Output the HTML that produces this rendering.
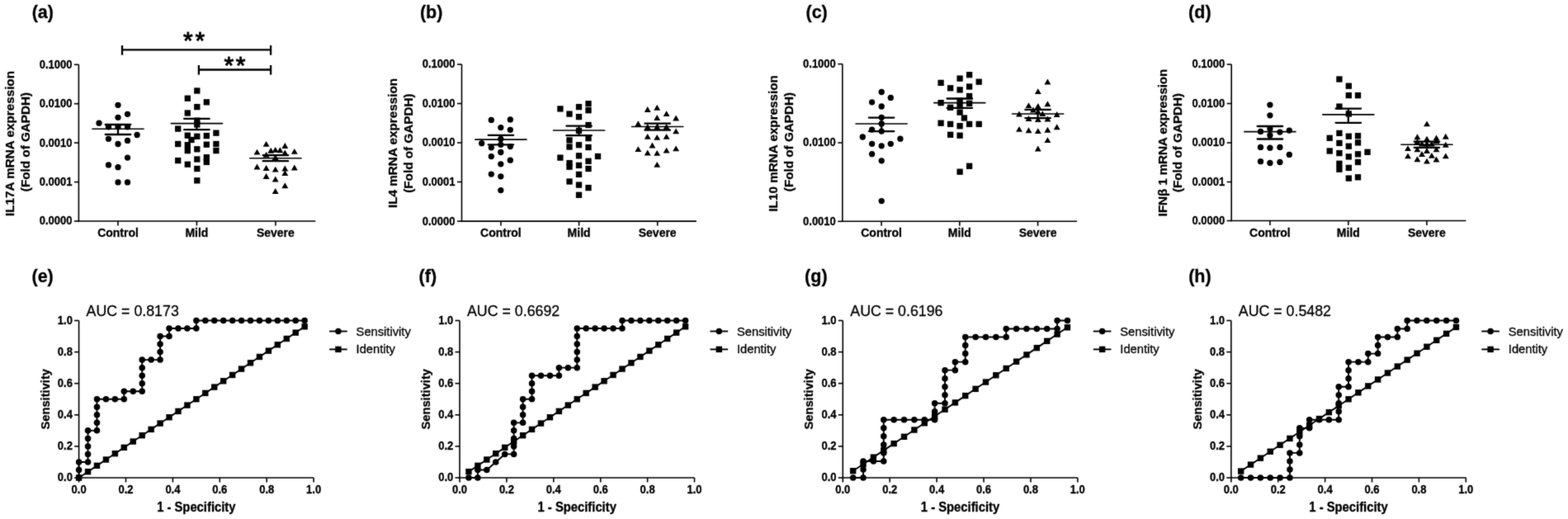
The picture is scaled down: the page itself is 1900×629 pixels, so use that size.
<!DOCTYPE html>
<html><head><meta charset="utf-8"><title>Figure</title>
<style>html,body{margin:0;padding:0;background:#fff;}svg{display:block;}text{stroke:#000;stroke-width:0.3px;stroke-linejoin:round;}</style>
</head><body>
<svg width="1900" height="629" viewBox="0 0 1900 629" font-family="'Liberation Sans', Arial, sans-serif" fill="#000">
<defs><filter id="soft" filterUnits="userSpaceOnUse" x="0" y="0" width="1900" height="629" color-interpolation-filters="sRGB"><feConvolveMatrix order="3" kernelMatrix="0.02 0.08 0.02 0.08 0.6 0.08 0.02 0.08 0.02" edgeMode="duplicate" preserveAlpha="false"/></filter></defs>
<rect width="1900" height="629" fill="#fff"/>
<g filter="url(#soft)">
<text transform="translate(38.7,22) scale(1,1.0)" font-size="21.5" font-weight="bold" text-anchor="start">(a)</text>
<line x1="95.4" y1="78.3" x2="95.4" y2="268.8" stroke="#000" stroke-width="1.6" stroke-linecap="butt"/>
<line x1="94.6" y1="268" x2="382.3" y2="268" stroke="#000" stroke-width="1.6" stroke-linecap="butt"/>
<line x1="89.9" y1="78.3" x2="95.4" y2="78.3" stroke="#000" stroke-width="1.6" stroke-linecap="butt"/>
<text transform="translate(87.4,82.7) scale(1,1.07)" font-size="13" font-weight="bold" text-anchor="end">0.1000</text>
<line x1="89.9" y1="125.7" x2="95.4" y2="125.7" stroke="#000" stroke-width="1.6" stroke-linecap="butt"/>
<text transform="translate(87.4,130.1) scale(1,1.07)" font-size="13" font-weight="bold" text-anchor="end">0.0100</text>
<line x1="89.9" y1="173.1" x2="95.4" y2="173.1" stroke="#000" stroke-width="1.6" stroke-linecap="butt"/>
<text transform="translate(87.4,177.5) scale(1,1.07)" font-size="13" font-weight="bold" text-anchor="end">0.0010</text>
<line x1="89.9" y1="220.6" x2="95.4" y2="220.6" stroke="#000" stroke-width="1.6" stroke-linecap="butt"/>
<text transform="translate(87.4,225) scale(1,1.07)" font-size="13" font-weight="bold" text-anchor="end">0.0001</text>
<line x1="89.9" y1="268" x2="95.4" y2="268" stroke="#000" stroke-width="1.6" stroke-linecap="butt"/>
<text transform="translate(87.4,272.4) scale(1,1.07)" font-size="13" font-weight="bold" text-anchor="end">0.0000</text>
<line x1="143" y1="268" x2="143" y2="273.5" stroke="#000" stroke-width="1.6" stroke-linecap="butt"/>
<text transform="translate(143,287) scale(1,1.04)" font-size="14" font-weight="bold" text-anchor="middle">Control</text>
<line x1="238.4" y1="268" x2="238.4" y2="273.5" stroke="#000" stroke-width="1.6" stroke-linecap="butt"/>
<text transform="translate(238.4,287) scale(1,1.04)" font-size="14" font-weight="bold" text-anchor="middle">Mild</text>
<line x1="333.9" y1="268" x2="333.9" y2="273.5" stroke="#000" stroke-width="1.6" stroke-linecap="butt"/>
<text transform="translate(333.9,287) scale(1,1.04)" font-size="14" font-weight="bold" text-anchor="middle">Severe</text>
<text transform="translate(17.1,174) rotate(-90) scale(1,1.0)" font-size="15.25" font-weight="bold" text-anchor="middle">IL17A mRNA expression</text>
<text transform="translate(36.1,172) rotate(-90) scale(1,1.0)" font-size="15.25" font-weight="bold" text-anchor="middle">(Fold of GAPDH)</text>
<circle cx="143" cy="127.3" r="3.65"/>
<circle cx="143" cy="142.3" r="3.65"/>
<circle cx="154.5" cy="138.3" r="3.65"/>
<circle cx="120" cy="149.2" r="3.65"/>
<circle cx="131.5" cy="153.8" r="3.65"/>
<circle cx="154.5" cy="153.8" r="3.65"/>
<circle cx="143" cy="153.8" r="3.65"/>
<circle cx="166.1" cy="163.5" r="3.65"/>
<circle cx="131.5" cy="168.3" r="3.65"/>
<circle cx="154.5" cy="170.4" r="3.65"/>
<circle cx="143" cy="174.5" r="3.65"/>
<circle cx="154.5" cy="191.1" r="3.65"/>
<circle cx="131.5" cy="199.9" r="3.65"/>
<circle cx="143" cy="202.7" r="3.65"/>
<circle cx="143" cy="220.9" r="3.65"/>
<circle cx="154.5" cy="220.9" r="3.65"/>
<line x1="111.9" y1="156.3" x2="174.1" y2="156.3" stroke="#000" stroke-width="1.6" stroke-linecap="round"/>
<line x1="127.75" y1="151" x2="158.25" y2="151" stroke="#000" stroke-width="2.3" stroke-linecap="round"/>
<line x1="127.75" y1="163" x2="158.25" y2="163" stroke="#000" stroke-width="2.3" stroke-linecap="round"/>
<line x1="143" y1="151" x2="143" y2="163" stroke="#000" stroke-width="2.3" stroke-linecap="butt"/>
<rect x="235.15" y="106.35" width="7.3" height="7.3"/>
<rect x="223.65" y="115.55" width="7.3" height="7.3"/>
<rect x="246.65" y="120.15" width="7.3" height="7.3"/>
<rect x="235.15" y="125.95" width="7.3" height="7.3"/>
<rect x="223.65" y="133.35" width="7.3" height="7.3"/>
<rect x="235.15" y="142.55" width="7.3" height="7.3"/>
<rect x="212.05" y="152.45" width="7.3" height="7.3"/>
<rect x="258.25" y="157.55" width="7.3" height="7.3"/>
<rect x="223.65" y="160.55" width="7.3" height="7.3"/>
<rect x="235.15" y="161.65" width="7.3" height="7.3"/>
<rect x="246.65" y="160.95" width="7.3" height="7.3"/>
<rect x="228.35" y="165.85" width="7.3" height="7.3"/>
<rect x="212.05" y="170.85" width="7.3" height="7.3"/>
<rect x="223.65" y="172.05" width="7.3" height="7.3"/>
<rect x="223.65" y="178.95" width="7.3" height="7.3"/>
<rect x="246.65" y="171.55" width="7.3" height="7.3"/>
<rect x="258.25" y="170.85" width="7.3" height="7.3"/>
<rect x="235.15" y="177.15" width="7.3" height="7.3"/>
<rect x="258.25" y="178.95" width="7.3" height="7.3"/>
<rect x="212.05" y="190.95" width="7.3" height="7.3"/>
<rect x="223.65" y="195.55" width="7.3" height="7.3"/>
<rect x="235.15" y="189.35" width="7.3" height="7.3"/>
<rect x="246.65" y="187.05" width="7.3" height="7.3"/>
<rect x="246.65" y="192.75" width="7.3" height="7.3"/>
<rect x="235.15" y="200.85" width="7.3" height="7.3"/>
<rect x="235.15" y="215.15" width="7.3" height="7.3"/>
<rect x="235.15" y="147.35" width="7.3" height="7.3"/>
<line x1="207.3" y1="149.6" x2="269.5" y2="149.6" stroke="#000" stroke-width="1.6" stroke-linecap="round"/>
<line x1="223.15" y1="143.9" x2="253.65" y2="143.9" stroke="#000" stroke-width="2.3" stroke-linecap="round"/>
<line x1="223.15" y1="157.2" x2="253.65" y2="157.2" stroke="#000" stroke-width="2.3" stroke-linecap="round"/>
<line x1="238.4" y1="143.9" x2="238.4" y2="157.2" stroke="#000" stroke-width="2.3" stroke-linecap="butt"/>
<polygon points="322.6,170.91 318.65,177.8 326.55,177.8"/>
<polygon points="345.3,173.11 341.35,180 349.25,180"/>
<polygon points="311.5,180.71 307.55,187.6 315.45,187.6"/>
<polygon points="328.2,178.81 324.25,185.7 332.15,185.7"/>
<polygon points="333.7,177.91 329.75,184.8 337.65,184.8"/>
<polygon points="339.3,178.31 335.35,185.2 343.25,185.2"/>
<polygon points="345.3,181.51 341.35,188.41 349.25,188.41"/>
<polygon points="356.8,179.91 352.85,186.8 360.75,186.8"/>
<polygon points="322.6,183.91 318.65,190.8 326.55,190.8"/>
<polygon points="311.5,198.51 307.55,205.41 315.45,205.41"/>
<polygon points="322.6,200.11 318.65,207 326.55,207"/>
<polygon points="333.7,201.71 329.75,208.6 337.65,208.6"/>
<polygon points="345.3,200.61 341.35,207.5 349.25,207.5"/>
<polygon points="356.8,199.51 352.85,206.41 360.75,206.41"/>
<polygon points="345.3,206.21 341.35,213.1 349.25,213.1"/>
<polygon points="322.6,210.11 318.65,217 326.55,217"/>
<polygon points="333.7,213.61 329.75,220.5 337.65,220.5"/>
<polygon points="345.3,221.31 341.35,228.2 349.25,228.2"/>
<polygon points="333.7,228.11 329.75,235 337.65,235"/>
<polygon points="333.7,187.21 329.75,194.1 337.65,194.1"/>
<line x1="302.8" y1="191.7" x2="365" y2="191.7" stroke="#000" stroke-width="1.6" stroke-linecap="round"/>
<line x1="318.65" y1="188.2" x2="349.15" y2="188.2" stroke="#000" stroke-width="2.3" stroke-linecap="round"/>
<line x1="318.65" y1="195.2" x2="349.15" y2="195.2" stroke="#000" stroke-width="2.3" stroke-linecap="round"/>
<line x1="333.9" y1="188.2" x2="333.9" y2="195.2" stroke="#000" stroke-width="2.3" stroke-linecap="butt"/>
<text transform="translate(508.9,22) scale(1,1.0)" font-size="21.5" font-weight="bold" text-anchor="start">(b)</text>
<line x1="559.5" y1="78" x2="559.5" y2="268.9" stroke="#000" stroke-width="1.6" stroke-linecap="butt"/>
<line x1="558.7" y1="268.1" x2="843.9" y2="268.1" stroke="#000" stroke-width="1.6" stroke-linecap="butt"/>
<line x1="554" y1="78" x2="559.5" y2="78" stroke="#000" stroke-width="1.6" stroke-linecap="butt"/>
<text transform="translate(551.5,82.4) scale(1,1.07)" font-size="13" font-weight="bold" text-anchor="end">0.1000</text>
<line x1="554" y1="125.5" x2="559.5" y2="125.5" stroke="#000" stroke-width="1.6" stroke-linecap="butt"/>
<text transform="translate(551.5,129.9) scale(1,1.07)" font-size="13" font-weight="bold" text-anchor="end">0.0100</text>
<line x1="554" y1="173" x2="559.5" y2="173" stroke="#000" stroke-width="1.6" stroke-linecap="butt"/>
<text transform="translate(551.5,177.4) scale(1,1.07)" font-size="13" font-weight="bold" text-anchor="end">0.0010</text>
<line x1="554" y1="220.5" x2="559.5" y2="220.5" stroke="#000" stroke-width="1.6" stroke-linecap="butt"/>
<text transform="translate(551.5,224.9) scale(1,1.07)" font-size="13" font-weight="bold" text-anchor="end">0.0001</text>
<line x1="554" y1="268.1" x2="559.5" y2="268.1" stroke="#000" stroke-width="1.6" stroke-linecap="butt"/>
<text transform="translate(551.5,272.5) scale(1,1.07)" font-size="13" font-weight="bold" text-anchor="end">0.0000</text>
<line x1="606.9" y1="268.1" x2="606.9" y2="273.6" stroke="#000" stroke-width="1.6" stroke-linecap="butt"/>
<text transform="translate(606.9,287) scale(1,1.04)" font-size="14" font-weight="bold" text-anchor="middle">Control</text>
<line x1="701.6" y1="268.1" x2="701.6" y2="273.6" stroke="#000" stroke-width="1.6" stroke-linecap="butt"/>
<text transform="translate(701.6,287) scale(1,1.04)" font-size="14" font-weight="bold" text-anchor="middle">Mild</text>
<line x1="796.7" y1="268.1" x2="796.7" y2="273.6" stroke="#000" stroke-width="1.6" stroke-linecap="butt"/>
<text transform="translate(796.7,287) scale(1,1.04)" font-size="14" font-weight="bold" text-anchor="middle">Severe</text>
<text transform="translate(480.8,173.45) rotate(-90) scale(1,1.0)" font-size="15.25" font-weight="bold" text-anchor="middle">IL4 mRNA expression</text>
<text transform="translate(499.6,173.65) rotate(-90) scale(1,1.0)" font-size="15.25" font-weight="bold" text-anchor="middle">(Fold of GAPDH)</text>
<circle cx="595.3" cy="145.4" r="3.65"/>
<circle cx="618.3" cy="144.9" r="3.65"/>
<circle cx="606.8" cy="154.6" r="3.65"/>
<circle cx="618.3" cy="157.3" r="3.65"/>
<circle cx="606.8" cy="168.4" r="3.65"/>
<circle cx="583.7" cy="173.7" r="3.65"/>
<circle cx="595.3" cy="178.8" r="3.65"/>
<circle cx="618.3" cy="177.6" r="3.65"/>
<circle cx="606.8" cy="175.3" r="3.65"/>
<circle cx="606.8" cy="184.5" r="3.65"/>
<circle cx="595.3" cy="189.6" r="3.65"/>
<circle cx="618.3" cy="194.2" r="3.65"/>
<circle cx="606.8" cy="198.8" r="3.65"/>
<circle cx="595.3" cy="211.1" r="3.65"/>
<circle cx="606.8" cy="213.8" r="3.65"/>
<circle cx="606.8" cy="230.6" r="3.65"/>
<line x1="575.8" y1="169.1" x2="638" y2="169.1" stroke="#000" stroke-width="1.6" stroke-linecap="round"/>
<line x1="591.65" y1="163.8" x2="622.15" y2="163.8" stroke="#000" stroke-width="2.3" stroke-linecap="round"/>
<line x1="591.65" y1="175.3" x2="622.15" y2="175.3" stroke="#000" stroke-width="2.3" stroke-linecap="round"/>
<line x1="606.9" y1="163.8" x2="606.9" y2="175.3" stroke="#000" stroke-width="2.3" stroke-linecap="butt"/>
<rect x="675.25" y="128.25" width="7.3" height="7.3"/>
<rect x="686.35" y="134.45" width="7.3" height="7.3"/>
<rect x="697.85" y="125.95" width="7.3" height="7.3"/>
<rect x="697.85" y="137.95" width="7.3" height="7.3"/>
<rect x="709.35" y="122.05" width="7.3" height="7.3"/>
<rect x="709.35" y="130.05" width="7.3" height="7.3"/>
<rect x="709.35" y="147.85" width="7.3" height="7.3"/>
<rect x="697.85" y="154.75" width="7.3" height="7.3"/>
<rect x="686.35" y="166.25" width="7.3" height="7.3"/>
<rect x="686.35" y="174.35" width="7.3" height="7.3"/>
<rect x="697.85" y="172.05" width="7.3" height="7.3"/>
<rect x="709.35" y="163.95" width="7.3" height="7.3"/>
<rect x="709.35" y="174.85" width="7.3" height="7.3"/>
<rect x="675.25" y="187.45" width="7.3" height="7.3"/>
<rect x="697.85" y="185.15" width="7.3" height="7.3"/>
<rect x="720.85" y="185.85" width="7.3" height="7.3"/>
<rect x="686.35" y="193.95" width="7.3" height="7.3"/>
<rect x="686.35" y="198.55" width="7.3" height="7.3"/>
<rect x="697.85" y="196.75" width="7.3" height="7.3"/>
<rect x="709.35" y="191.65" width="7.3" height="7.3"/>
<rect x="709.35" y="200.85" width="7.3" height="7.3"/>
<rect x="697.85" y="207.75" width="7.3" height="7.3"/>
<rect x="686.35" y="216.35" width="7.3" height="7.3"/>
<rect x="697.85" y="220.45" width="7.3" height="7.3"/>
<rect x="709.35" y="223.95" width="7.3" height="7.3"/>
<rect x="697.85" y="232.65" width="7.3" height="7.3"/>
<line x1="670.5" y1="158" x2="732.7" y2="158" stroke="#000" stroke-width="1.6" stroke-linecap="round"/>
<line x1="686.35" y1="152.6" x2="716.85" y2="152.6" stroke="#000" stroke-width="2.3" stroke-linecap="round"/>
<line x1="686.35" y1="164.2" x2="716.85" y2="164.2" stroke="#000" stroke-width="2.3" stroke-linecap="round"/>
<line x1="701.6" y1="152.6" x2="701.6" y2="164.2" stroke="#000" stroke-width="2.3" stroke-linecap="butt"/>
<polygon points="784.7,129.11 780.75,136 788.65,136"/>
<polygon points="796.2,126.8 792.25,133.7 800.15,133.7"/>
<polygon points="807.6,134.21 803.65,141.1 811.55,141.1"/>
<polygon points="796.2,139.01 792.25,145.91 800.15,145.91"/>
<polygon points="819.1,139.61 815.15,146.5 823.05,146.5"/>
<polygon points="773.3,146.31 769.35,153.2 777.25,153.2"/>
<polygon points="784.7,150.11 780.75,157 788.65,157"/>
<polygon points="796.2,150.11 792.25,157 800.15,157"/>
<polygon points="807.6,150.11 803.65,157 811.55,157"/>
<polygon points="819.1,155.41 815.15,162.3 823.05,162.3"/>
<polygon points="784.7,161.91 780.75,168.8 788.65,168.8"/>
<polygon points="796.2,162.91 792.25,169.8 800.15,169.8"/>
<polygon points="807.6,161.91 803.65,168.8 811.55,168.8"/>
<polygon points="790.4,172.61 786.45,179.5 794.35,179.5"/>
<polygon points="773.3,177.21 769.35,184.1 777.25,184.1"/>
<polygon points="784.7,181.61 780.75,188.5 788.65,188.5"/>
<polygon points="796.2,181.91 792.25,188.8 800.15,188.8"/>
<polygon points="807.6,178.71 803.65,185.6 811.55,185.6"/>
<polygon points="819.1,176.41 815.15,183.3 823.05,183.3"/>
<polygon points="796.2,195.91 792.25,202.8 800.15,202.8"/>
<line x1="765.6" y1="153.5" x2="827.8" y2="153.5" stroke="#000" stroke-width="1.6" stroke-linecap="round"/>
<line x1="781.45" y1="149.7" x2="811.95" y2="149.7" stroke="#000" stroke-width="2.3" stroke-linecap="round"/>
<line x1="781.45" y1="157.7" x2="811.95" y2="157.7" stroke="#000" stroke-width="2.3" stroke-linecap="round"/>
<line x1="796.7" y1="149.7" x2="796.7" y2="157.7" stroke="#000" stroke-width="2.3" stroke-linecap="butt"/>
<text transform="translate(976.5,22) scale(1,1.0)" font-size="21.5" font-weight="bold" text-anchor="start">(c)</text>
<line x1="1020.8" y1="77.6" x2="1020.8" y2="269.1" stroke="#000" stroke-width="1.6" stroke-linecap="butt"/>
<line x1="1020" y1="268.3" x2="1305.1" y2="268.3" stroke="#000" stroke-width="1.6" stroke-linecap="butt"/>
<line x1="1015.3" y1="77.6" x2="1020.8" y2="77.6" stroke="#000" stroke-width="1.6" stroke-linecap="butt"/>
<text transform="translate(1012.8,82) scale(1,1.07)" font-size="13" font-weight="bold" text-anchor="end">0.1000</text>
<line x1="1015.3" y1="173" x2="1020.8" y2="173" stroke="#000" stroke-width="1.6" stroke-linecap="butt"/>
<text transform="translate(1012.8,177.4) scale(1,1.07)" font-size="13" font-weight="bold" text-anchor="end">0.0100</text>
<line x1="1015.3" y1="268.3" x2="1020.8" y2="268.3" stroke="#000" stroke-width="1.6" stroke-linecap="butt"/>
<text transform="translate(1012.8,272.7) scale(1,1.07)" font-size="13" font-weight="bold" text-anchor="end">0.0010</text>
<line x1="1068.1" y1="268.3" x2="1068.1" y2="273.8" stroke="#000" stroke-width="1.6" stroke-linecap="butt"/>
<text transform="translate(1068.1,287) scale(1,1.04)" font-size="14" font-weight="bold" text-anchor="middle">Control</text>
<line x1="1162.8" y1="268.3" x2="1162.8" y2="273.8" stroke="#000" stroke-width="1.6" stroke-linecap="butt"/>
<text transform="translate(1162.8,287) scale(1,1.04)" font-size="14" font-weight="bold" text-anchor="middle">Mild</text>
<line x1="1257.6" y1="268.3" x2="1257.6" y2="273.8" stroke="#000" stroke-width="1.6" stroke-linecap="butt"/>
<text transform="translate(1257.6,287) scale(1,1.04)" font-size="14" font-weight="bold" text-anchor="middle">Severe</text>
<text transform="translate(942.1,173.85) rotate(-90) scale(1,1.0)" font-size="15.25" font-weight="bold" text-anchor="middle">IL10 mRNA expression</text>
<text transform="translate(961.1,172.05) rotate(-90) scale(1,1.0)" font-size="15.25" font-weight="bold" text-anchor="middle">(Fold of GAPDH)</text>
<circle cx="1068.2" cy="111.5" r="3.65"/>
<circle cx="1079.3" cy="118.4" r="3.65"/>
<circle cx="1056.6" cy="123.8" r="3.65"/>
<circle cx="1068.2" cy="129" r="3.65"/>
<circle cx="1068.2" cy="142.3" r="3.65"/>
<circle cx="1056.6" cy="157.1" r="3.65"/>
<circle cx="1068.2" cy="159.1" r="3.65"/>
<circle cx="1045.3" cy="166" r="3.65"/>
<circle cx="1090.9" cy="168.2" r="3.65"/>
<circle cx="1056.6" cy="174.3" r="3.65"/>
<circle cx="1068.2" cy="176.8" r="3.65"/>
<circle cx="1079.3" cy="174.3" r="3.65"/>
<circle cx="1056.6" cy="186.7" r="3.65"/>
<circle cx="1068.2" cy="194.8" r="3.65"/>
<circle cx="1068.2" cy="243.6" r="3.65"/>
<circle cx="1068.2" cy="150" r="3.65"/>
<line x1="1037" y1="150" x2="1099.2" y2="150" stroke="#000" stroke-width="1.6" stroke-linecap="round"/>
<line x1="1052.85" y1="142.6" x2="1083.35" y2="142.6" stroke="#000" stroke-width="2.3" stroke-linecap="round"/>
<line x1="1052.85" y1="159.1" x2="1083.35" y2="159.1" stroke="#000" stroke-width="2.3" stroke-linecap="round"/>
<line x1="1068.1" y1="142.6" x2="1068.1" y2="159.1" stroke="#000" stroke-width="2.3" stroke-linecap="butt"/>
<rect x="1170.95" y="87.05" width="7.3" height="7.3"/>
<rect x="1159.45" y="91.45" width="7.3" height="7.3"/>
<rect x="1136.45" y="96.75" width="7.3" height="7.3"/>
<rect x="1182.55" y="95.55" width="7.3" height="7.3"/>
<rect x="1147.95" y="103.15" width="7.3" height="7.3"/>
<rect x="1159.45" y="105.25" width="7.3" height="7.3"/>
<rect x="1170.95" y="101.35" width="7.3" height="7.3"/>
<rect x="1170.95" y="112.85" width="7.3" height="7.3"/>
<rect x="1159.45" y="118.65" width="7.3" height="7.3"/>
<rect x="1136.45" y="120.95" width="7.3" height="7.3"/>
<rect x="1170.95" y="121.65" width="7.3" height="7.3"/>
<rect x="1147.95" y="126.65" width="7.3" height="7.3"/>
<rect x="1159.45" y="124.35" width="7.3" height="7.3"/>
<rect x="1159.45" y="132.45" width="7.3" height="7.3"/>
<rect x="1164.75" y="139.35" width="7.3" height="7.3"/>
<rect x="1136.45" y="145.55" width="7.3" height="7.3"/>
<rect x="1147.95" y="146.75" width="7.3" height="7.3"/>
<rect x="1159.45" y="149.05" width="7.3" height="7.3"/>
<rect x="1170.95" y="146.75" width="7.3" height="7.3"/>
<rect x="1182.55" y="146.75" width="7.3" height="7.3"/>
<rect x="1147.95" y="159.65" width="7.3" height="7.3"/>
<rect x="1159.45" y="160.55" width="7.3" height="7.3"/>
<rect x="1170.95" y="197.65" width="7.3" height="7.3"/>
<rect x="1159.45" y="204.55" width="7.3" height="7.3"/>
<line x1="1131.7" y1="124.6" x2="1193.9" y2="124.6" stroke="#000" stroke-width="1.6" stroke-linecap="round"/>
<line x1="1147.55" y1="119.5" x2="1178.05" y2="119.5" stroke="#000" stroke-width="2.3" stroke-linecap="round"/>
<line x1="1147.55" y1="130.8" x2="1178.05" y2="130.8" stroke="#000" stroke-width="2.3" stroke-linecap="round"/>
<line x1="1162.8" y1="119.5" x2="1162.8" y2="130.8" stroke="#000" stroke-width="2.3" stroke-linecap="butt"/>
<polygon points="1269.4,95.5 1265.45,102.41 1273.35,102.41"/>
<polygon points="1257.8,107.2 1253.85,114.11 1261.75,114.11"/>
<polygon points="1246.5,124.2 1242.55,131.1 1250.45,131.1"/>
<polygon points="1257.8,125.11 1253.85,132 1261.75,132"/>
<polygon points="1269.4,122.3 1265.45,129.2 1273.35,129.2"/>
<polygon points="1252,129.61 1248.05,136.5 1255.95,136.5"/>
<polygon points="1257.8,131.51 1253.85,138.41 1261.75,138.41"/>
<polygon points="1263.3,134.21 1259.35,141.1 1267.25,141.1"/>
<polygon points="1235,134.61 1231.05,141.5 1238.95,141.5"/>
<polygon points="1280.7,135.11 1276.75,142 1284.65,142"/>
<polygon points="1246.5,140.11 1242.55,147 1250.45,147"/>
<polygon points="1257.8,141.21 1253.85,148.1 1261.75,148.1"/>
<polygon points="1269.4,140.61 1265.45,147.5 1273.35,147.5"/>
<polygon points="1235,152.91 1231.05,159.8 1238.95,159.8"/>
<polygon points="1246.5,154.31 1242.55,161.2 1250.45,161.2"/>
<polygon points="1257.8,155.21 1253.85,162.1 1261.75,162.1"/>
<polygon points="1269.4,153.81 1265.45,160.7 1273.35,160.7"/>
<polygon points="1280.7,150.31 1276.75,157.2 1284.65,157.2"/>
<polygon points="1269.4,166.21 1265.45,173.1 1273.35,173.1"/>
<polygon points="1257.8,176.61 1253.85,183.5 1261.75,183.5"/>
<line x1="1226.5" y1="138" x2="1288.7" y2="138" stroke="#000" stroke-width="1.6" stroke-linecap="round"/>
<line x1="1242.35" y1="132.9" x2="1272.85" y2="132.9" stroke="#000" stroke-width="2.3" stroke-linecap="round"/>
<line x1="1242.35" y1="143.1" x2="1272.85" y2="143.1" stroke="#000" stroke-width="2.3" stroke-linecap="round"/>
<line x1="1257.6" y1="132.9" x2="1257.6" y2="143.1" stroke="#000" stroke-width="2.3" stroke-linecap="butt"/>
<text transform="translate(1440.1,22) scale(1,1.0)" font-size="21.5" font-weight="bold" text-anchor="start">(d)</text>
<line x1="1492.2" y1="78" x2="1492.2" y2="268.3" stroke="#000" stroke-width="1.6" stroke-linecap="butt"/>
<line x1="1491.4" y1="267.5" x2="1776.4" y2="267.5" stroke="#000" stroke-width="1.6" stroke-linecap="butt"/>
<line x1="1486.7" y1="78" x2="1492.2" y2="78" stroke="#000" stroke-width="1.6" stroke-linecap="butt"/>
<text transform="translate(1484.2,82.4) scale(1,1.07)" font-size="13" font-weight="bold" text-anchor="end">0.1000</text>
<line x1="1486.7" y1="125.5" x2="1492.2" y2="125.5" stroke="#000" stroke-width="1.6" stroke-linecap="butt"/>
<text transform="translate(1484.2,129.9) scale(1,1.07)" font-size="13" font-weight="bold" text-anchor="end">0.0100</text>
<line x1="1486.7" y1="173" x2="1492.2" y2="173" stroke="#000" stroke-width="1.6" stroke-linecap="butt"/>
<text transform="translate(1484.2,177.4) scale(1,1.07)" font-size="13" font-weight="bold" text-anchor="end">0.0010</text>
<line x1="1486.7" y1="220.5" x2="1492.2" y2="220.5" stroke="#000" stroke-width="1.6" stroke-linecap="butt"/>
<text transform="translate(1484.2,224.9) scale(1,1.07)" font-size="13" font-weight="bold" text-anchor="end">0.0001</text>
<line x1="1486.7" y1="267.5" x2="1492.2" y2="267.5" stroke="#000" stroke-width="1.6" stroke-linecap="butt"/>
<text transform="translate(1484.2,271.9) scale(1,1.07)" font-size="13" font-weight="bold" text-anchor="end">0.0000</text>
<line x1="1538.9" y1="267.5" x2="1538.9" y2="273" stroke="#000" stroke-width="1.6" stroke-linecap="butt"/>
<text transform="translate(1538.9,287) scale(1,1.04)" font-size="14" font-weight="bold" text-anchor="middle">Control</text>
<line x1="1633.8" y1="267.5" x2="1633.8" y2="273" stroke="#000" stroke-width="1.6" stroke-linecap="butt"/>
<text transform="translate(1633.8,287) scale(1,1.04)" font-size="14" font-weight="bold" text-anchor="middle">Mild</text>
<line x1="1728.9" y1="267.5" x2="1728.9" y2="273" stroke="#000" stroke-width="1.6" stroke-linecap="butt"/>
<text transform="translate(1728.9,287) scale(1,1.04)" font-size="14" font-weight="bold" text-anchor="middle">Severe</text>
<text transform="translate(1413.6,172.9) rotate(-90) scale(1,1.0)" font-size="15.25" font-weight="bold" text-anchor="middle" textLength="178.5">IFNβ 1 mRNA expression</text>
<text transform="translate(1431.9,172.95) rotate(-90) scale(1,1.0)" font-size="15.25" font-weight="bold" text-anchor="middle">(Fold of GAPDH)</text>
<circle cx="1538.9" cy="127.1" r="3.65"/>
<circle cx="1538.9" cy="139.8" r="3.65"/>
<circle cx="1527.5" cy="159.4" r="3.65"/>
<circle cx="1550.9" cy="160.1" r="3.65"/>
<circle cx="1562.3" cy="158.1" r="3.65"/>
<circle cx="1538.9" cy="163.9" r="3.65"/>
<circle cx="1538.9" cy="156" r="3.65"/>
<circle cx="1527.5" cy="178.4" r="3.65"/>
<circle cx="1538.9" cy="179.2" r="3.65"/>
<circle cx="1550.9" cy="178.4" r="3.65"/>
<circle cx="1562.3" cy="187.4" r="3.65"/>
<circle cx="1527.5" cy="195.7" r="3.65"/>
<circle cx="1538.9" cy="197.5" r="3.65"/>
<circle cx="1550.9" cy="196.5" r="3.65"/>
<line x1="1507.8" y1="159.6" x2="1570" y2="159.6" stroke="#000" stroke-width="1.6" stroke-linecap="round"/>
<line x1="1523.65" y1="153" x2="1554.15" y2="153" stroke="#000" stroke-width="2.3" stroke-linecap="round"/>
<line x1="1523.65" y1="168.5" x2="1554.15" y2="168.5" stroke="#000" stroke-width="2.3" stroke-linecap="round"/>
<line x1="1538.9" y1="153" x2="1538.9" y2="168.5" stroke="#000" stroke-width="2.3" stroke-linecap="butt"/>
<rect x="1619.25" y="92.35" width="7.3" height="7.3"/>
<rect x="1630.65" y="100.55" width="7.3" height="7.3"/>
<rect x="1630.65" y="111.95" width="7.3" height="7.3"/>
<rect x="1641.85" y="111.95" width="7.3" height="7.3"/>
<rect x="1619.25" y="125.45" width="7.3" height="7.3"/>
<rect x="1630.65" y="134.35" width="7.3" height="7.3"/>
<rect x="1619.25" y="157.75" width="7.3" height="7.3"/>
<rect x="1607.55" y="163.65" width="7.3" height="7.3"/>
<rect x="1630.65" y="161.55" width="7.3" height="7.3"/>
<rect x="1641.85" y="161.05" width="7.3" height="7.3"/>
<rect x="1619.25" y="169.75" width="7.3" height="7.3"/>
<rect x="1630.65" y="173.55" width="7.3" height="7.3"/>
<rect x="1641.85" y="169.25" width="7.3" height="7.3"/>
<rect x="1607.55" y="179.35" width="7.3" height="7.3"/>
<rect x="1619.25" y="181.95" width="7.3" height="7.3"/>
<rect x="1630.65" y="186.25" width="7.3" height="7.3"/>
<rect x="1641.85" y="183.15" width="7.3" height="7.3"/>
<rect x="1653.35" y="180.65" width="7.3" height="7.3"/>
<rect x="1619.25" y="194.65" width="7.3" height="7.3"/>
<rect x="1619.25" y="201.55" width="7.3" height="7.3"/>
<rect x="1630.65" y="199.75" width="7.3" height="7.3"/>
<rect x="1641.85" y="192.85" width="7.3" height="7.3"/>
<rect x="1630.65" y="212.45" width="7.3" height="7.3"/>
<rect x="1641.85" y="211.15" width="7.3" height="7.3"/>
<line x1="1602.7" y1="138.9" x2="1664.9" y2="138.9" stroke="#000" stroke-width="1.6" stroke-linecap="round"/>
<line x1="1618.55" y1="131.6" x2="1649.05" y2="131.6" stroke="#000" stroke-width="2.3" stroke-linecap="round"/>
<line x1="1618.55" y1="148.8" x2="1649.05" y2="148.8" stroke="#000" stroke-width="2.3" stroke-linecap="round"/>
<line x1="1633.8" y1="131.6" x2="1633.8" y2="148.8" stroke="#000" stroke-width="2.3" stroke-linecap="butt"/>
<polygon points="1729,146.41 1725.05,153.3 1732.95,153.3"/>
<polygon points="1717.4,162.31 1713.45,169.2 1721.35,169.2"/>
<polygon points="1729,164.71 1725.05,171.6 1732.95,171.6"/>
<polygon points="1740.5,163.41 1736.55,170.3 1744.45,170.3"/>
<polygon points="1751.8,161.81 1747.85,168.7 1755.75,168.7"/>
<polygon points="1717.4,168.21 1713.45,175.1 1721.35,175.1"/>
<polygon points="1723,170.71 1719.05,177.6 1726.95,177.6"/>
<polygon points="1729,170.71 1725.05,177.6 1732.95,177.6"/>
<polygon points="1734.9,170.71 1730.95,177.6 1738.85,177.6"/>
<polygon points="1740.5,167.21 1736.55,174.1 1744.45,174.1"/>
<polygon points="1706,176.21 1702.05,183.1 1709.95,183.1"/>
<polygon points="1717.4,177.41 1713.45,184.3 1721.35,184.3"/>
<polygon points="1729,179.01 1725.05,185.91 1732.95,185.91"/>
<polygon points="1740.5,177.41 1736.55,184.3 1744.45,184.3"/>
<polygon points="1751.8,171.81 1747.85,178.7 1755.75,178.7"/>
<polygon points="1706,185.41 1702.05,192.3 1709.95,192.3"/>
<polygon points="1723,183.01 1719.05,189.91 1726.95,189.91"/>
<polygon points="1734.9,184.91 1730.95,191.8 1738.85,191.8"/>
<polygon points="1751.8,185.41 1747.85,192.3 1755.75,192.3"/>
<polygon points="1717.4,189.31 1713.45,196.2 1721.35,196.2"/>
<polygon points="1729,191.71 1725.05,198.6 1732.95,198.6"/>
<polygon points="1740.5,189.61 1736.55,196.5 1744.45,196.5"/>
<line x1="1697.8" y1="175.3" x2="1760" y2="175.3" stroke="#000" stroke-width="1.6" stroke-linecap="round"/>
<line x1="1713.65" y1="171.7" x2="1744.15" y2="171.7" stroke="#000" stroke-width="2.3" stroke-linecap="round"/>
<line x1="1713.65" y1="178.8" x2="1744.15" y2="178.8" stroke="#000" stroke-width="2.3" stroke-linecap="round"/>
<line x1="1728.9" y1="171.7" x2="1728.9" y2="178.8" stroke="#000" stroke-width="2.3" stroke-linecap="butt"/>
<line x1="148" y1="60.3" x2="328.1" y2="60.3" stroke="#000" stroke-width="2.3" stroke-linecap="butt"/>
<line x1="148" y1="55" x2="148" y2="66.7" stroke="#000" stroke-width="2.3" stroke-linecap="butt"/>
<line x1="328.1" y1="55" x2="328.1" y2="66.7" stroke="#000" stroke-width="2.3" stroke-linecap="butt"/>
<line x1="240.9" y1="84.5" x2="328.1" y2="84.5" stroke="#000" stroke-width="2.3" stroke-linecap="butt"/>
<line x1="240.9" y1="79" x2="240.9" y2="90.6" stroke="#000" stroke-width="2.3" stroke-linecap="butt"/>
<line x1="328.1" y1="79" x2="328.1" y2="90.6" stroke="#000" stroke-width="2.3" stroke-linecap="butt"/>
<text transform="translate(236.4,58.9) scale(1,1.0)" font-size="30" font-weight="normal" text-anchor="middle" letter-spacing="2.6" style="stroke-width:0.9px">**</text>
<text transform="translate(285.8,88.6) scale(1,1.0)" font-size="30" font-weight="normal" text-anchor="middle" letter-spacing="2.6" style="stroke-width:0.9px">**</text>
<text transform="translate(38.5,341.6) scale(1,1.0)" font-size="21.5" font-weight="bold" text-anchor="start">(e)</text>
<line x1="95.6" y1="388.5" x2="95.6" y2="579.8" stroke="#000" stroke-width="1.6" stroke-linecap="butt"/>
<line x1="94.8" y1="579" x2="380.1" y2="579" stroke="#000" stroke-width="1.6" stroke-linecap="butt"/>
<line x1="90.1" y1="579" x2="95.6" y2="579" stroke="#000" stroke-width="1.6" stroke-linecap="butt"/>
<text transform="translate(87.9,583.4) scale(1,1.07)" font-size="13" font-weight="bold" text-anchor="end">0.0</text>
<line x1="95.6" y1="579" x2="95.6" y2="584.5" stroke="#000" stroke-width="1.6" stroke-linecap="butt"/>
<text transform="translate(95.6,598.3) scale(1,1.07)" font-size="13" font-weight="bold" text-anchor="middle">0.0</text>
<line x1="90.1" y1="540.9" x2="95.6" y2="540.9" stroke="#000" stroke-width="1.6" stroke-linecap="butt"/>
<text transform="translate(87.9,545.3) scale(1,1.07)" font-size="13" font-weight="bold" text-anchor="end">0.2</text>
<line x1="152.5" y1="579" x2="152.5" y2="584.5" stroke="#000" stroke-width="1.6" stroke-linecap="butt"/>
<text transform="translate(152.5,598.3) scale(1,1.07)" font-size="13" font-weight="bold" text-anchor="middle">0.2</text>
<line x1="90.1" y1="502.8" x2="95.6" y2="502.8" stroke="#000" stroke-width="1.6" stroke-linecap="butt"/>
<text transform="translate(87.9,507.2) scale(1,1.07)" font-size="13" font-weight="bold" text-anchor="end">0.4</text>
<line x1="209.4" y1="579" x2="209.4" y2="584.5" stroke="#000" stroke-width="1.6" stroke-linecap="butt"/>
<text transform="translate(209.4,598.3) scale(1,1.07)" font-size="13" font-weight="bold" text-anchor="middle">0.4</text>
<line x1="90.1" y1="464.7" x2="95.6" y2="464.7" stroke="#000" stroke-width="1.6" stroke-linecap="butt"/>
<text transform="translate(87.9,469.1) scale(1,1.07)" font-size="13" font-weight="bold" text-anchor="end">0.6</text>
<line x1="266.3" y1="579" x2="266.3" y2="584.5" stroke="#000" stroke-width="1.6" stroke-linecap="butt"/>
<text transform="translate(266.3,598.3) scale(1,1.07)" font-size="13" font-weight="bold" text-anchor="middle">0.6</text>
<line x1="90.1" y1="426.6" x2="95.6" y2="426.6" stroke="#000" stroke-width="1.6" stroke-linecap="butt"/>
<text transform="translate(87.9,431) scale(1,1.07)" font-size="13" font-weight="bold" text-anchor="end">0.8</text>
<line x1="323.2" y1="579" x2="323.2" y2="584.5" stroke="#000" stroke-width="1.6" stroke-linecap="butt"/>
<text transform="translate(323.2,598.3) scale(1,1.07)" font-size="13" font-weight="bold" text-anchor="middle">0.8</text>
<line x1="90.1" y1="388.5" x2="95.6" y2="388.5" stroke="#000" stroke-width="1.6" stroke-linecap="butt"/>
<text transform="translate(87.9,392.9) scale(1,1.07)" font-size="13" font-weight="bold" text-anchor="end">1.0</text>
<line x1="380.1" y1="579" x2="380.1" y2="584.5" stroke="#000" stroke-width="1.6" stroke-linecap="butt"/>
<text transform="translate(380.1,598.3) scale(1,1.07)" font-size="13" font-weight="bold" text-anchor="middle">1.0</text>
<text transform="translate(237.8,619.7) scale(1,1.08)" font-size="14.8" font-weight="bold" text-anchor="middle">1 - Specificity</text>
<text transform="translate(59.6,483.75) rotate(-90) scale(1,1.0)" font-size="14.7" font-weight="bold" text-anchor="middle">Sensitivity</text>
<text transform="translate(104.6,382.5) scale(1,1.0)" font-size="17.8" font-weight="normal" text-anchor="start">AUC = 0.8173</text>
<polyline fill="none" stroke="#000" stroke-width="1.9" points="95.6,579 106.54,571.67 117.48,564.35 128.43,557.02 139.37,549.69 150.31,542.37 161.25,535.04 172.2,527.71 183.14,520.38 194.08,513.06 205.02,505.73 215.97,498.4 226.91,491.08 237.85,483.75 248.79,476.42 259.73,469.1 270.68,461.77 281.62,454.44 292.56,447.12 303.5,439.79 314.45,432.46 325.39,425.13 336.33,417.81 347.27,410.48 358.22,403.15 369.16,395.83"/>
<polyline fill="none" stroke="#000" stroke-width="1.9" stroke-linejoin="round" points="95.6,579 95.6,569.48 95.6,559.95 106.54,559.95 106.54,550.42 106.54,540.9 106.54,531.38 106.54,521.85 117.48,521.85 117.48,512.33 117.48,502.8 117.48,493.27 117.48,483.75 128.43,483.75 139.37,483.75 150.31,483.75 150.31,474.23 161.25,474.23 172.2,474.23 172.2,464.7 172.2,455.18 172.2,445.65 172.2,436.12 183.14,436.12 194.08,436.12 194.08,426.6 194.08,417.08 194.08,407.55 205.02,407.55 205.02,398.02 215.97,398.02 226.91,398.02 237.85,398.02 237.85,388.5 248.79,388.5 259.73,388.5 270.68,388.5 281.62,388.5 292.56,388.5 303.5,388.5 314.45,388.5 325.39,388.5 336.33,388.5 347.27,388.5 358.22,388.5 369.16,388.5"/>
<rect x="91.9" y="575.3" width="7.4" height="7.4"/>
<rect x="102.84" y="567.97" width="7.4" height="7.4"/>
<rect x="113.78" y="560.65" width="7.4" height="7.4"/>
<rect x="124.73" y="553.32" width="7.4" height="7.4"/>
<rect x="135.67" y="545.99" width="7.4" height="7.4"/>
<rect x="146.61" y="538.67" width="7.4" height="7.4"/>
<rect x="157.55" y="531.34" width="7.4" height="7.4"/>
<rect x="168.5" y="524.01" width="7.4" height="7.4"/>
<rect x="179.44" y="516.68" width="7.4" height="7.4"/>
<rect x="190.38" y="509.36" width="7.4" height="7.4"/>
<rect x="201.32" y="502.03" width="7.4" height="7.4"/>
<rect x="212.27" y="494.7" width="7.4" height="7.4"/>
<rect x="223.21" y="487.38" width="7.4" height="7.4"/>
<rect x="234.15" y="480.05" width="7.4" height="7.4"/>
<rect x="245.09" y="472.72" width="7.4" height="7.4"/>
<rect x="256.03" y="465.4" width="7.4" height="7.4"/>
<rect x="266.98" y="458.07" width="7.4" height="7.4"/>
<rect x="277.92" y="450.74" width="7.4" height="7.4"/>
<rect x="288.86" y="443.42" width="7.4" height="7.4"/>
<rect x="299.8" y="436.09" width="7.4" height="7.4"/>
<rect x="310.75" y="428.76" width="7.4" height="7.4"/>
<rect x="321.69" y="421.43" width="7.4" height="7.4"/>
<rect x="332.63" y="414.11" width="7.4" height="7.4"/>
<rect x="343.57" y="406.78" width="7.4" height="7.4"/>
<rect x="354.52" y="399.45" width="7.4" height="7.4"/>
<rect x="365.46" y="392.13" width="7.4" height="7.4"/>
<circle cx="95.6" cy="579" r="3.75"/>
<circle cx="95.6" cy="569.48" r="3.75"/>
<circle cx="95.6" cy="559.95" r="3.75"/>
<circle cx="106.54" cy="559.95" r="3.75"/>
<circle cx="106.54" cy="550.42" r="3.75"/>
<circle cx="106.54" cy="540.9" r="3.75"/>
<circle cx="106.54" cy="531.38" r="3.75"/>
<circle cx="106.54" cy="521.85" r="3.75"/>
<circle cx="117.48" cy="521.85" r="3.75"/>
<circle cx="117.48" cy="512.33" r="3.75"/>
<circle cx="117.48" cy="502.8" r="3.75"/>
<circle cx="117.48" cy="493.27" r="3.75"/>
<circle cx="117.48" cy="483.75" r="3.75"/>
<circle cx="128.43" cy="483.75" r="3.75"/>
<circle cx="139.37" cy="483.75" r="3.75"/>
<circle cx="150.31" cy="483.75" r="3.75"/>
<circle cx="150.31" cy="474.23" r="3.75"/>
<circle cx="161.25" cy="474.23" r="3.75"/>
<circle cx="172.2" cy="474.23" r="3.75"/>
<circle cx="172.2" cy="464.7" r="3.75"/>
<circle cx="172.2" cy="455.18" r="3.75"/>
<circle cx="172.2" cy="445.65" r="3.75"/>
<circle cx="172.2" cy="436.12" r="3.75"/>
<circle cx="183.14" cy="436.12" r="3.75"/>
<circle cx="194.08" cy="436.12" r="3.75"/>
<circle cx="194.08" cy="426.6" r="3.75"/>
<circle cx="194.08" cy="417.08" r="3.75"/>
<circle cx="194.08" cy="407.55" r="3.75"/>
<circle cx="205.02" cy="407.55" r="3.75"/>
<circle cx="205.02" cy="398.02" r="3.75"/>
<circle cx="215.97" cy="398.02" r="3.75"/>
<circle cx="226.91" cy="398.02" r="3.75"/>
<circle cx="237.85" cy="398.02" r="3.75"/>
<circle cx="237.85" cy="388.5" r="3.75"/>
<circle cx="248.79" cy="388.5" r="3.75"/>
<circle cx="259.73" cy="388.5" r="3.75"/>
<circle cx="270.68" cy="388.5" r="3.75"/>
<circle cx="281.62" cy="388.5" r="3.75"/>
<circle cx="292.56" cy="388.5" r="3.75"/>
<circle cx="303.5" cy="388.5" r="3.75"/>
<circle cx="314.45" cy="388.5" r="3.75"/>
<circle cx="325.39" cy="388.5" r="3.75"/>
<circle cx="336.33" cy="388.5" r="3.75"/>
<circle cx="347.27" cy="388.5" r="3.75"/>
<circle cx="358.22" cy="388.5" r="3.75"/>
<circle cx="369.16" cy="388.5" r="3.75"/>
<line x1="399.1" y1="401.5" x2="420.7" y2="401.5" stroke="#000" stroke-width="1.9" stroke-linecap="butt"/>
<circle cx="409.9" cy="401.5" r="3.75"/>
<line x1="399.1" y1="423.4" x2="420.7" y2="423.4" stroke="#000" stroke-width="1.9" stroke-linecap="butt"/>
<rect x="406.2" y="419.7" width="7.4" height="7.4"/>
<text transform="translate(431.6,406.8) scale(1,1.05)" font-size="14.7" font-weight="normal" text-anchor="start">Sensitivity</text>
<text transform="translate(431.6,428.3) scale(1,1.05)" font-size="14.7" font-weight="normal" text-anchor="start">Identity</text>
<text transform="translate(507.6,341.6) scale(1,1.0)" font-size="21.5" font-weight="bold" text-anchor="start">(f)</text>
<line x1="557" y1="388.5" x2="557" y2="579.8" stroke="#000" stroke-width="1.6" stroke-linecap="butt"/>
<line x1="556.2" y1="579" x2="841.5" y2="579" stroke="#000" stroke-width="1.6" stroke-linecap="butt"/>
<line x1="551.5" y1="579" x2="557" y2="579" stroke="#000" stroke-width="1.6" stroke-linecap="butt"/>
<text transform="translate(549.3,583.4) scale(1,1.07)" font-size="13" font-weight="bold" text-anchor="end">0.0</text>
<line x1="557" y1="579" x2="557" y2="584.5" stroke="#000" stroke-width="1.6" stroke-linecap="butt"/>
<text transform="translate(557,598.3) scale(1,1.07)" font-size="13" font-weight="bold" text-anchor="middle">0.0</text>
<line x1="551.5" y1="540.9" x2="557" y2="540.9" stroke="#000" stroke-width="1.6" stroke-linecap="butt"/>
<text transform="translate(549.3,545.3) scale(1,1.07)" font-size="13" font-weight="bold" text-anchor="end">0.2</text>
<line x1="613.9" y1="579" x2="613.9" y2="584.5" stroke="#000" stroke-width="1.6" stroke-linecap="butt"/>
<text transform="translate(613.9,598.3) scale(1,1.07)" font-size="13" font-weight="bold" text-anchor="middle">0.2</text>
<line x1="551.5" y1="502.8" x2="557" y2="502.8" stroke="#000" stroke-width="1.6" stroke-linecap="butt"/>
<text transform="translate(549.3,507.2) scale(1,1.07)" font-size="13" font-weight="bold" text-anchor="end">0.4</text>
<line x1="670.8" y1="579" x2="670.8" y2="584.5" stroke="#000" stroke-width="1.6" stroke-linecap="butt"/>
<text transform="translate(670.8,598.3) scale(1,1.07)" font-size="13" font-weight="bold" text-anchor="middle">0.4</text>
<line x1="551.5" y1="464.7" x2="557" y2="464.7" stroke="#000" stroke-width="1.6" stroke-linecap="butt"/>
<text transform="translate(549.3,469.1) scale(1,1.07)" font-size="13" font-weight="bold" text-anchor="end">0.6</text>
<line x1="727.7" y1="579" x2="727.7" y2="584.5" stroke="#000" stroke-width="1.6" stroke-linecap="butt"/>
<text transform="translate(727.7,598.3) scale(1,1.07)" font-size="13" font-weight="bold" text-anchor="middle">0.6</text>
<line x1="551.5" y1="426.6" x2="557" y2="426.6" stroke="#000" stroke-width="1.6" stroke-linecap="butt"/>
<text transform="translate(549.3,431) scale(1,1.07)" font-size="13" font-weight="bold" text-anchor="end">0.8</text>
<line x1="784.6" y1="579" x2="784.6" y2="584.5" stroke="#000" stroke-width="1.6" stroke-linecap="butt"/>
<text transform="translate(784.6,598.3) scale(1,1.07)" font-size="13" font-weight="bold" text-anchor="middle">0.8</text>
<line x1="551.5" y1="388.5" x2="557" y2="388.5" stroke="#000" stroke-width="1.6" stroke-linecap="butt"/>
<text transform="translate(549.3,392.9) scale(1,1.07)" font-size="13" font-weight="bold" text-anchor="end">1.0</text>
<line x1="841.5" y1="579" x2="841.5" y2="584.5" stroke="#000" stroke-width="1.6" stroke-linecap="butt"/>
<text transform="translate(841.5,598.3) scale(1,1.07)" font-size="13" font-weight="bold" text-anchor="middle">1.0</text>
<text transform="translate(699.2,619.7) scale(1,1.08)" font-size="14.8" font-weight="bold" text-anchor="middle">1 - Specificity</text>
<text transform="translate(521,483.75) rotate(-90) scale(1,1.0)" font-size="14.7" font-weight="bold" text-anchor="middle">Sensitivity</text>
<text transform="translate(566,382.5) scale(1,1.0)" font-size="17.8" font-weight="normal" text-anchor="start">AUC = 0.6692</text>
<polyline fill="none" stroke="#000" stroke-width="1.9" points="567.94,571.67 578.88,564.35 589.83,557.02 600.77,549.69 611.71,542.37 622.65,535.04 633.6,527.71 644.54,520.38 655.48,513.06 666.42,505.73 677.37,498.4 688.31,491.08 699.25,483.75 710.19,476.42 721.13,469.1 732.08,461.77 743.02,454.44 753.96,447.12 764.9,439.79 775.85,432.46 786.79,425.13 797.73,417.81 808.67,410.48 819.62,403.15 830.56,395.83"/>
<polyline fill="none" stroke="#000" stroke-width="1.9" stroke-linejoin="round" points="567.94,579 578.88,579 578.88,569.48 589.83,569.48 600.77,559.95 611.71,550.42 622.65,550.42 622.65,540.9 622.65,531.38 622.65,521.85 622.65,512.33 633.6,512.33 633.6,502.8 633.6,493.27 633.6,483.75 644.54,483.75 644.54,474.23 644.54,464.7 644.54,455.18 655.48,455.18 666.42,455.18 677.37,455.18 677.37,445.65 688.31,445.65 699.25,445.65 699.25,436.12 699.25,426.6 699.25,417.08 699.25,407.55 699.25,398.02 710.19,398.02 721.13,398.02 732.08,398.02 743.02,398.02 753.96,398.02 753.96,388.5 764.9,388.5 775.85,388.5 786.79,388.5 797.73,388.5 808.67,388.5 819.62,388.5 830.56,388.5"/>
<rect x="564.24" y="567.97" width="7.4" height="7.4"/>
<rect x="575.18" y="560.65" width="7.4" height="7.4"/>
<rect x="586.13" y="553.32" width="7.4" height="7.4"/>
<rect x="597.07" y="545.99" width="7.4" height="7.4"/>
<rect x="608.01" y="538.67" width="7.4" height="7.4"/>
<rect x="618.95" y="531.34" width="7.4" height="7.4"/>
<rect x="629.9" y="524.01" width="7.4" height="7.4"/>
<rect x="640.84" y="516.68" width="7.4" height="7.4"/>
<rect x="651.78" y="509.36" width="7.4" height="7.4"/>
<rect x="662.72" y="502.03" width="7.4" height="7.4"/>
<rect x="673.67" y="494.7" width="7.4" height="7.4"/>
<rect x="684.61" y="487.38" width="7.4" height="7.4"/>
<rect x="695.55" y="480.05" width="7.4" height="7.4"/>
<rect x="706.49" y="472.72" width="7.4" height="7.4"/>
<rect x="717.43" y="465.4" width="7.4" height="7.4"/>
<rect x="728.38" y="458.07" width="7.4" height="7.4"/>
<rect x="739.32" y="450.74" width="7.4" height="7.4"/>
<rect x="750.26" y="443.42" width="7.4" height="7.4"/>
<rect x="761.2" y="436.09" width="7.4" height="7.4"/>
<rect x="772.15" y="428.76" width="7.4" height="7.4"/>
<rect x="783.09" y="421.43" width="7.4" height="7.4"/>
<rect x="794.03" y="414.11" width="7.4" height="7.4"/>
<rect x="804.97" y="406.78" width="7.4" height="7.4"/>
<rect x="815.92" y="399.45" width="7.4" height="7.4"/>
<rect x="826.86" y="392.13" width="7.4" height="7.4"/>
<circle cx="567.94" cy="579" r="3.75"/>
<circle cx="578.88" cy="579" r="3.75"/>
<circle cx="578.88" cy="569.48" r="3.75"/>
<circle cx="589.83" cy="569.48" r="3.75"/>
<circle cx="600.77" cy="559.95" r="3.75"/>
<circle cx="611.71" cy="550.42" r="3.75"/>
<circle cx="622.65" cy="550.42" r="3.75"/>
<circle cx="622.65" cy="540.9" r="3.75"/>
<circle cx="622.65" cy="531.38" r="3.75"/>
<circle cx="622.65" cy="521.85" r="3.75"/>
<circle cx="622.65" cy="512.33" r="3.75"/>
<circle cx="633.6" cy="512.33" r="3.75"/>
<circle cx="633.6" cy="502.8" r="3.75"/>
<circle cx="633.6" cy="493.27" r="3.75"/>
<circle cx="633.6" cy="483.75" r="3.75"/>
<circle cx="644.54" cy="483.75" r="3.75"/>
<circle cx="644.54" cy="474.23" r="3.75"/>
<circle cx="644.54" cy="464.7" r="3.75"/>
<circle cx="644.54" cy="455.18" r="3.75"/>
<circle cx="655.48" cy="455.18" r="3.75"/>
<circle cx="666.42" cy="455.18" r="3.75"/>
<circle cx="677.37" cy="455.18" r="3.75"/>
<circle cx="677.37" cy="445.65" r="3.75"/>
<circle cx="688.31" cy="445.65" r="3.75"/>
<circle cx="699.25" cy="445.65" r="3.75"/>
<circle cx="699.25" cy="436.12" r="3.75"/>
<circle cx="699.25" cy="426.6" r="3.75"/>
<circle cx="699.25" cy="417.08" r="3.75"/>
<circle cx="699.25" cy="407.55" r="3.75"/>
<circle cx="699.25" cy="398.02" r="3.75"/>
<circle cx="710.19" cy="398.02" r="3.75"/>
<circle cx="721.13" cy="398.02" r="3.75"/>
<circle cx="732.08" cy="398.02" r="3.75"/>
<circle cx="743.02" cy="398.02" r="3.75"/>
<circle cx="753.96" cy="398.02" r="3.75"/>
<circle cx="753.96" cy="388.5" r="3.75"/>
<circle cx="764.9" cy="388.5" r="3.75"/>
<circle cx="775.85" cy="388.5" r="3.75"/>
<circle cx="786.79" cy="388.5" r="3.75"/>
<circle cx="797.73" cy="388.5" r="3.75"/>
<circle cx="808.67" cy="388.5" r="3.75"/>
<circle cx="819.62" cy="388.5" r="3.75"/>
<circle cx="830.56" cy="388.5" r="3.75"/>
<line x1="860.5" y1="401.5" x2="882.1" y2="401.5" stroke="#000" stroke-width="1.9" stroke-linecap="butt"/>
<circle cx="871.3" cy="401.5" r="3.75"/>
<line x1="860.5" y1="423.4" x2="882.1" y2="423.4" stroke="#000" stroke-width="1.9" stroke-linecap="butt"/>
<rect x="867.6" y="419.7" width="7.4" height="7.4"/>
<text transform="translate(893,406.8) scale(1,1.05)" font-size="14.7" font-weight="normal" text-anchor="start">Sensitivity</text>
<text transform="translate(893,428.3) scale(1,1.05)" font-size="14.7" font-weight="normal" text-anchor="start">Identity</text>
<text transform="translate(975.1,341.6) scale(1,1.0)" font-size="21.5" font-weight="bold" text-anchor="start">(g)</text>
<line x1="1021.3" y1="388.5" x2="1021.3" y2="579.8" stroke="#000" stroke-width="1.6" stroke-linecap="butt"/>
<line x1="1020.5" y1="579" x2="1305.8" y2="579" stroke="#000" stroke-width="1.6" stroke-linecap="butt"/>
<line x1="1015.8" y1="579" x2="1021.3" y2="579" stroke="#000" stroke-width="1.6" stroke-linecap="butt"/>
<text transform="translate(1013.6,583.4) scale(1,1.07)" font-size="13" font-weight="bold" text-anchor="end">0.0</text>
<line x1="1021.3" y1="579" x2="1021.3" y2="584.5" stroke="#000" stroke-width="1.6" stroke-linecap="butt"/>
<text transform="translate(1021.3,598.3) scale(1,1.07)" font-size="13" font-weight="bold" text-anchor="middle">0.0</text>
<line x1="1015.8" y1="540.9" x2="1021.3" y2="540.9" stroke="#000" stroke-width="1.6" stroke-linecap="butt"/>
<text transform="translate(1013.6,545.3) scale(1,1.07)" font-size="13" font-weight="bold" text-anchor="end">0.2</text>
<line x1="1078.2" y1="579" x2="1078.2" y2="584.5" stroke="#000" stroke-width="1.6" stroke-linecap="butt"/>
<text transform="translate(1078.2,598.3) scale(1,1.07)" font-size="13" font-weight="bold" text-anchor="middle">0.2</text>
<line x1="1015.8" y1="502.8" x2="1021.3" y2="502.8" stroke="#000" stroke-width="1.6" stroke-linecap="butt"/>
<text transform="translate(1013.6,507.2) scale(1,1.07)" font-size="13" font-weight="bold" text-anchor="end">0.4</text>
<line x1="1135.1" y1="579" x2="1135.1" y2="584.5" stroke="#000" stroke-width="1.6" stroke-linecap="butt"/>
<text transform="translate(1135.1,598.3) scale(1,1.07)" font-size="13" font-weight="bold" text-anchor="middle">0.4</text>
<line x1="1015.8" y1="464.7" x2="1021.3" y2="464.7" stroke="#000" stroke-width="1.6" stroke-linecap="butt"/>
<text transform="translate(1013.6,469.1) scale(1,1.07)" font-size="13" font-weight="bold" text-anchor="end">0.6</text>
<line x1="1192" y1="579" x2="1192" y2="584.5" stroke="#000" stroke-width="1.6" stroke-linecap="butt"/>
<text transform="translate(1192,598.3) scale(1,1.07)" font-size="13" font-weight="bold" text-anchor="middle">0.6</text>
<line x1="1015.8" y1="426.6" x2="1021.3" y2="426.6" stroke="#000" stroke-width="1.6" stroke-linecap="butt"/>
<text transform="translate(1013.6,431) scale(1,1.07)" font-size="13" font-weight="bold" text-anchor="end">0.8</text>
<line x1="1248.9" y1="579" x2="1248.9" y2="584.5" stroke="#000" stroke-width="1.6" stroke-linecap="butt"/>
<text transform="translate(1248.9,598.3) scale(1,1.07)" font-size="13" font-weight="bold" text-anchor="middle">0.8</text>
<line x1="1015.8" y1="388.5" x2="1021.3" y2="388.5" stroke="#000" stroke-width="1.6" stroke-linecap="butt"/>
<text transform="translate(1013.6,392.9) scale(1,1.07)" font-size="13" font-weight="bold" text-anchor="end">1.0</text>
<line x1="1305.8" y1="579" x2="1305.8" y2="584.5" stroke="#000" stroke-width="1.6" stroke-linecap="butt"/>
<text transform="translate(1305.8,598.3) scale(1,1.07)" font-size="13" font-weight="bold" text-anchor="middle">1.0</text>
<text transform="translate(1163.5,619.7) scale(1,1.08)" font-size="14.8" font-weight="bold" text-anchor="middle">1 - Specificity</text>
<text transform="translate(985.3,483.75) rotate(-90) scale(1,1.0)" font-size="14.7" font-weight="bold" text-anchor="middle">Sensitivity</text>
<text transform="translate(1030.3,382.5) scale(1,1.0)" font-size="17.8" font-weight="normal" text-anchor="start">AUC = 0.6196</text>
<polyline fill="none" stroke="#000" stroke-width="1.9" points="1033.67,570.72 1046.04,562.43 1058.41,554.15 1070.78,545.87 1083.15,537.59 1095.52,529.3 1107.89,521.02 1120.26,512.74 1132.63,504.46 1145,496.17 1157.37,487.89 1169.73,479.61 1182.1,471.33 1194.47,463.04 1206.84,454.76 1219.21,446.48 1231.58,438.2 1243.95,429.91 1256.32,421.63 1268.69,413.35 1281.06,405.07 1293.43,396.78"/>
<polyline fill="none" stroke="#000" stroke-width="1.9" stroke-linejoin="round" points="1033.67,579 1046.04,579 1046.04,568.97 1046.04,558.95 1058.41,558.95 1070.78,558.95 1070.78,548.92 1070.78,538.89 1070.78,528.87 1070.78,518.84 1070.78,508.82 1083.15,508.82 1095.52,508.82 1107.89,508.82 1120.26,508.82 1132.63,508.82 1132.63,498.79 1132.63,488.76 1145,488.76 1145,478.74 1145,468.71 1145,458.68 1145,448.66 1157.37,448.66 1157.37,438.63 1169.73,438.63 1169.73,428.61 1169.73,418.58 1169.73,408.55 1182.1,408.55 1194.47,408.55 1206.84,408.55 1219.21,408.55 1219.21,398.53 1231.58,398.53 1243.95,398.53 1256.32,398.53 1268.69,398.53 1281.06,398.53 1281.06,388.5 1293.43,388.5"/>
<rect x="1029.97" y="567.02" width="7.4" height="7.4"/>
<rect x="1042.34" y="558.73" width="7.4" height="7.4"/>
<rect x="1054.71" y="550.45" width="7.4" height="7.4"/>
<rect x="1067.08" y="542.17" width="7.4" height="7.4"/>
<rect x="1079.45" y="533.89" width="7.4" height="7.4"/>
<rect x="1091.82" y="525.6" width="7.4" height="7.4"/>
<rect x="1104.19" y="517.32" width="7.4" height="7.4"/>
<rect x="1116.56" y="509.04" width="7.4" height="7.4"/>
<rect x="1128.93" y="500.76" width="7.4" height="7.4"/>
<rect x="1141.3" y="492.47" width="7.4" height="7.4"/>
<rect x="1153.67" y="484.19" width="7.4" height="7.4"/>
<rect x="1166.03" y="475.91" width="7.4" height="7.4"/>
<rect x="1178.4" y="467.63" width="7.4" height="7.4"/>
<rect x="1190.77" y="459.34" width="7.4" height="7.4"/>
<rect x="1203.14" y="451.06" width="7.4" height="7.4"/>
<rect x="1215.51" y="442.78" width="7.4" height="7.4"/>
<rect x="1227.88" y="434.5" width="7.4" height="7.4"/>
<rect x="1240.25" y="426.21" width="7.4" height="7.4"/>
<rect x="1252.62" y="417.93" width="7.4" height="7.4"/>
<rect x="1264.99" y="409.65" width="7.4" height="7.4"/>
<rect x="1277.36" y="401.37" width="7.4" height="7.4"/>
<rect x="1289.73" y="393.08" width="7.4" height="7.4"/>
<circle cx="1033.67" cy="579" r="3.75"/>
<circle cx="1046.04" cy="579" r="3.75"/>
<circle cx="1046.04" cy="568.97" r="3.75"/>
<circle cx="1046.04" cy="558.95" r="3.75"/>
<circle cx="1058.41" cy="558.95" r="3.75"/>
<circle cx="1070.78" cy="558.95" r="3.75"/>
<circle cx="1070.78" cy="548.92" r="3.75"/>
<circle cx="1070.78" cy="538.89" r="3.75"/>
<circle cx="1070.78" cy="528.87" r="3.75"/>
<circle cx="1070.78" cy="518.84" r="3.75"/>
<circle cx="1070.78" cy="508.82" r="3.75"/>
<circle cx="1083.15" cy="508.82" r="3.75"/>
<circle cx="1095.52" cy="508.82" r="3.75"/>
<circle cx="1107.89" cy="508.82" r="3.75"/>
<circle cx="1120.26" cy="508.82" r="3.75"/>
<circle cx="1132.63" cy="508.82" r="3.75"/>
<circle cx="1132.63" cy="498.79" r="3.75"/>
<circle cx="1132.63" cy="488.76" r="3.75"/>
<circle cx="1145" cy="488.76" r="3.75"/>
<circle cx="1145" cy="478.74" r="3.75"/>
<circle cx="1145" cy="468.71" r="3.75"/>
<circle cx="1145" cy="458.68" r="3.75"/>
<circle cx="1145" cy="448.66" r="3.75"/>
<circle cx="1157.37" cy="448.66" r="3.75"/>
<circle cx="1157.37" cy="438.63" r="3.75"/>
<circle cx="1169.73" cy="438.63" r="3.75"/>
<circle cx="1169.73" cy="428.61" r="3.75"/>
<circle cx="1169.73" cy="418.58" r="3.75"/>
<circle cx="1169.73" cy="408.55" r="3.75"/>
<circle cx="1182.1" cy="408.55" r="3.75"/>
<circle cx="1194.47" cy="408.55" r="3.75"/>
<circle cx="1206.84" cy="408.55" r="3.75"/>
<circle cx="1219.21" cy="408.55" r="3.75"/>
<circle cx="1219.21" cy="398.53" r="3.75"/>
<circle cx="1231.58" cy="398.53" r="3.75"/>
<circle cx="1243.95" cy="398.53" r="3.75"/>
<circle cx="1256.32" cy="398.53" r="3.75"/>
<circle cx="1268.69" cy="398.53" r="3.75"/>
<circle cx="1281.06" cy="398.53" r="3.75"/>
<circle cx="1281.06" cy="388.5" r="3.75"/>
<circle cx="1293.43" cy="388.5" r="3.75"/>
<line x1="1324.8" y1="401.5" x2="1346.4" y2="401.5" stroke="#000" stroke-width="1.9" stroke-linecap="butt"/>
<circle cx="1335.6" cy="401.5" r="3.75"/>
<line x1="1324.8" y1="423.4" x2="1346.4" y2="423.4" stroke="#000" stroke-width="1.9" stroke-linecap="butt"/>
<rect x="1331.9" y="419.7" width="7.4" height="7.4"/>
<text transform="translate(1357.3,406.8) scale(1,1.05)" font-size="14.7" font-weight="normal" text-anchor="start">Sensitivity</text>
<text transform="translate(1357.3,428.3) scale(1,1.05)" font-size="14.7" font-weight="normal" text-anchor="start">Identity</text>
<text transform="translate(1440.2,341.6) scale(1,1.0)" font-size="21.5" font-weight="bold" text-anchor="start">(h)</text>
<line x1="1491.8" y1="388.5" x2="1491.8" y2="579.8" stroke="#000" stroke-width="1.6" stroke-linecap="butt"/>
<line x1="1491" y1="579" x2="1776.3" y2="579" stroke="#000" stroke-width="1.6" stroke-linecap="butt"/>
<line x1="1486.3" y1="579" x2="1491.8" y2="579" stroke="#000" stroke-width="1.6" stroke-linecap="butt"/>
<text transform="translate(1484.1,583.4) scale(1,1.07)" font-size="13" font-weight="bold" text-anchor="end">0.0</text>
<line x1="1491.8" y1="579" x2="1491.8" y2="584.5" stroke="#000" stroke-width="1.6" stroke-linecap="butt"/>
<text transform="translate(1491.8,598.3) scale(1,1.07)" font-size="13" font-weight="bold" text-anchor="middle">0.0</text>
<line x1="1486.3" y1="540.9" x2="1491.8" y2="540.9" stroke="#000" stroke-width="1.6" stroke-linecap="butt"/>
<text transform="translate(1484.1,545.3) scale(1,1.07)" font-size="13" font-weight="bold" text-anchor="end">0.2</text>
<line x1="1548.7" y1="579" x2="1548.7" y2="584.5" stroke="#000" stroke-width="1.6" stroke-linecap="butt"/>
<text transform="translate(1548.7,598.3) scale(1,1.07)" font-size="13" font-weight="bold" text-anchor="middle">0.2</text>
<line x1="1486.3" y1="502.8" x2="1491.8" y2="502.8" stroke="#000" stroke-width="1.6" stroke-linecap="butt"/>
<text transform="translate(1484.1,507.2) scale(1,1.07)" font-size="13" font-weight="bold" text-anchor="end">0.4</text>
<line x1="1605.6" y1="579" x2="1605.6" y2="584.5" stroke="#000" stroke-width="1.6" stroke-linecap="butt"/>
<text transform="translate(1605.6,598.3) scale(1,1.07)" font-size="13" font-weight="bold" text-anchor="middle">0.4</text>
<line x1="1486.3" y1="464.7" x2="1491.8" y2="464.7" stroke="#000" stroke-width="1.6" stroke-linecap="butt"/>
<text transform="translate(1484.1,469.1) scale(1,1.07)" font-size="13" font-weight="bold" text-anchor="end">0.6</text>
<line x1="1662.5" y1="579" x2="1662.5" y2="584.5" stroke="#000" stroke-width="1.6" stroke-linecap="butt"/>
<text transform="translate(1662.5,598.3) scale(1,1.07)" font-size="13" font-weight="bold" text-anchor="middle">0.6</text>
<line x1="1486.3" y1="426.6" x2="1491.8" y2="426.6" stroke="#000" stroke-width="1.6" stroke-linecap="butt"/>
<text transform="translate(1484.1,431) scale(1,1.07)" font-size="13" font-weight="bold" text-anchor="end">0.8</text>
<line x1="1719.4" y1="579" x2="1719.4" y2="584.5" stroke="#000" stroke-width="1.6" stroke-linecap="butt"/>
<text transform="translate(1719.4,598.3) scale(1,1.07)" font-size="13" font-weight="bold" text-anchor="middle">0.8</text>
<line x1="1486.3" y1="388.5" x2="1491.8" y2="388.5" stroke="#000" stroke-width="1.6" stroke-linecap="butt"/>
<text transform="translate(1484.1,392.9) scale(1,1.07)" font-size="13" font-weight="bold" text-anchor="end">1.0</text>
<line x1="1776.3" y1="579" x2="1776.3" y2="584.5" stroke="#000" stroke-width="1.6" stroke-linecap="butt"/>
<text transform="translate(1776.3,598.3) scale(1,1.07)" font-size="13" font-weight="bold" text-anchor="middle">1.0</text>
<text transform="translate(1634,619.7) scale(1,1.08)" font-size="14.8" font-weight="bold" text-anchor="middle">1 - Specificity</text>
<text transform="translate(1455.8,483.75) rotate(-90) scale(1,1.0)" font-size="14.7" font-weight="bold" text-anchor="middle">Sensitivity</text>
<text transform="translate(1500.8,382.5) scale(1,1.0)" font-size="17.8" font-weight="normal" text-anchor="start">AUC = 0.5482</text>
<polyline fill="none" stroke="#000" stroke-width="1.9" points="1503.65,571.06 1515.51,563.12 1527.36,555.19 1539.22,547.25 1551.07,539.31 1562.92,531.38 1574.78,523.44 1586.63,515.5 1598.49,507.56 1610.34,499.62 1622.2,491.69 1634.05,483.75 1645.9,475.81 1657.76,467.88 1669.61,459.94 1681.47,452 1693.32,444.06 1705.17,436.12 1717.03,428.19 1728.88,420.25 1740.74,412.31 1752.59,404.38 1764.45,396.44"/>
<polyline fill="none" stroke="#000" stroke-width="1.9" stroke-linejoin="round" points="1503.65,579 1515.51,579 1527.36,579 1539.22,579 1551.07,579 1562.92,579 1562.92,568.97 1562.92,558.95 1562.92,548.92 1574.78,548.92 1574.78,538.89 1574.78,528.87 1574.78,518.84 1586.63,518.84 1586.63,508.82 1598.49,508.82 1610.34,508.82 1622.2,508.82 1622.2,498.79 1622.2,488.76 1622.2,478.74 1622.2,468.71 1634.05,468.71 1634.05,458.68 1634.05,448.66 1634.05,438.63 1645.9,438.63 1657.76,438.63 1657.76,428.61 1669.61,428.61 1669.61,418.58 1669.61,408.55 1681.47,408.55 1693.32,408.55 1693.32,398.53 1705.17,398.53 1705.17,388.5 1717.03,388.5 1728.88,388.5 1740.74,388.5 1752.59,388.5 1764.45,388.5"/>
<rect x="1499.95" y="567.36" width="7.4" height="7.4"/>
<rect x="1511.81" y="559.42" width="7.4" height="7.4"/>
<rect x="1523.66" y="551.49" width="7.4" height="7.4"/>
<rect x="1535.52" y="543.55" width="7.4" height="7.4"/>
<rect x="1547.37" y="535.61" width="7.4" height="7.4"/>
<rect x="1559.22" y="527.67" width="7.4" height="7.4"/>
<rect x="1571.08" y="519.74" width="7.4" height="7.4"/>
<rect x="1582.93" y="511.8" width="7.4" height="7.4"/>
<rect x="1594.79" y="503.86" width="7.4" height="7.4"/>
<rect x="1606.64" y="495.93" width="7.4" height="7.4"/>
<rect x="1618.5" y="487.99" width="7.4" height="7.4"/>
<rect x="1630.35" y="480.05" width="7.4" height="7.4"/>
<rect x="1642.2" y="472.11" width="7.4" height="7.4"/>
<rect x="1654.06" y="464.18" width="7.4" height="7.4"/>
<rect x="1665.91" y="456.24" width="7.4" height="7.4"/>
<rect x="1677.77" y="448.3" width="7.4" height="7.4"/>
<rect x="1689.62" y="440.36" width="7.4" height="7.4"/>
<rect x="1701.47" y="432.43" width="7.4" height="7.4"/>
<rect x="1713.33" y="424.49" width="7.4" height="7.4"/>
<rect x="1725.18" y="416.55" width="7.4" height="7.4"/>
<rect x="1737.04" y="408.61" width="7.4" height="7.4"/>
<rect x="1748.89" y="400.68" width="7.4" height="7.4"/>
<rect x="1760.75" y="392.74" width="7.4" height="7.4"/>
<circle cx="1503.65" cy="579" r="3.75"/>
<circle cx="1515.51" cy="579" r="3.75"/>
<circle cx="1527.36" cy="579" r="3.75"/>
<circle cx="1539.22" cy="579" r="3.75"/>
<circle cx="1551.07" cy="579" r="3.75"/>
<circle cx="1562.92" cy="579" r="3.75"/>
<circle cx="1562.92" cy="568.97" r="3.75"/>
<circle cx="1562.92" cy="558.95" r="3.75"/>
<circle cx="1562.92" cy="548.92" r="3.75"/>
<circle cx="1574.78" cy="548.92" r="3.75"/>
<circle cx="1574.78" cy="538.89" r="3.75"/>
<circle cx="1574.78" cy="528.87" r="3.75"/>
<circle cx="1574.78" cy="518.84" r="3.75"/>
<circle cx="1586.63" cy="518.84" r="3.75"/>
<circle cx="1586.63" cy="508.82" r="3.75"/>
<circle cx="1598.49" cy="508.82" r="3.75"/>
<circle cx="1610.34" cy="508.82" r="3.75"/>
<circle cx="1622.2" cy="508.82" r="3.75"/>
<circle cx="1622.2" cy="498.79" r="3.75"/>
<circle cx="1622.2" cy="488.76" r="3.75"/>
<circle cx="1622.2" cy="478.74" r="3.75"/>
<circle cx="1622.2" cy="468.71" r="3.75"/>
<circle cx="1634.05" cy="468.71" r="3.75"/>
<circle cx="1634.05" cy="458.68" r="3.75"/>
<circle cx="1634.05" cy="448.66" r="3.75"/>
<circle cx="1634.05" cy="438.63" r="3.75"/>
<circle cx="1645.9" cy="438.63" r="3.75"/>
<circle cx="1657.76" cy="438.63" r="3.75"/>
<circle cx="1657.76" cy="428.61" r="3.75"/>
<circle cx="1669.61" cy="428.61" r="3.75"/>
<circle cx="1669.61" cy="418.58" r="3.75"/>
<circle cx="1669.61" cy="408.55" r="3.75"/>
<circle cx="1681.47" cy="408.55" r="3.75"/>
<circle cx="1693.32" cy="408.55" r="3.75"/>
<circle cx="1693.32" cy="398.53" r="3.75"/>
<circle cx="1705.17" cy="398.53" r="3.75"/>
<circle cx="1705.17" cy="388.5" r="3.75"/>
<circle cx="1717.03" cy="388.5" r="3.75"/>
<circle cx="1728.88" cy="388.5" r="3.75"/>
<circle cx="1740.74" cy="388.5" r="3.75"/>
<circle cx="1752.59" cy="388.5" r="3.75"/>
<circle cx="1764.45" cy="388.5" r="3.75"/>
<line x1="1795.3" y1="401.5" x2="1816.9" y2="401.5" stroke="#000" stroke-width="1.9" stroke-linecap="butt"/>
<circle cx="1806.1" cy="401.5" r="3.75"/>
<line x1="1795.3" y1="423.4" x2="1816.9" y2="423.4" stroke="#000" stroke-width="1.9" stroke-linecap="butt"/>
<rect x="1802.4" y="419.7" width="7.4" height="7.4"/>
<text transform="translate(1827.8,406.8) scale(1,1.05)" font-size="14.7" font-weight="normal" text-anchor="start">Sensitivity</text>
<text transform="translate(1827.8,428.3) scale(1,1.05)" font-size="14.7" font-weight="normal" text-anchor="start">Identity</text>
</g>
</svg>
</body></html>
